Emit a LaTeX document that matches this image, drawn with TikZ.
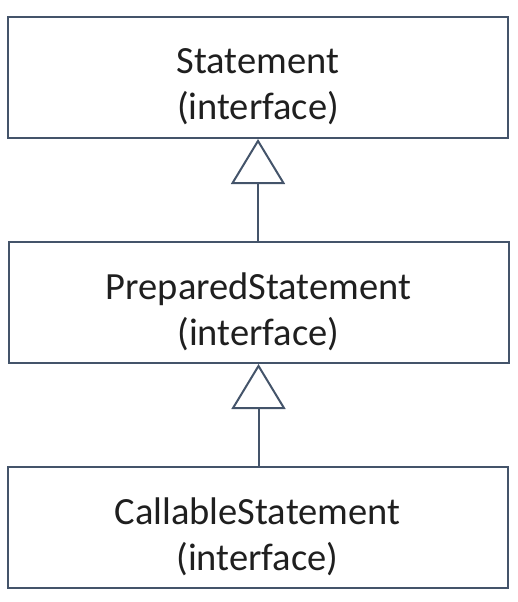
\documentclass[tikz,border=0pt]{standalone}
\usepackage{fontspec}
\setmainfont{Carlito}
\usetikzlibrary{arrows.meta}
\definecolor{linecol}{HTML}{44546A}
\begin{document}
\begin{tikzpicture}[x=1pt,y=-1pt,
  classbox/.style={draw=linecol, line width=2pt, minimum width=500pt, minimum height=121pt,
    inner sep=0pt},
  boxtext/.style={align=center, font=\fontsize{38.5}{46}\selectfont, text=black!88, yshift=-9pt},
  inherit/.style={draw=linecol, line width=2pt,
    -{Triangle[open, length=45pt, width=54pt, fill=white]}}]
\useasboundingbox (0,0) rectangle (517,602);
\node[classbox, label={[boxtext]center:Statement\\(interface)}] (stmt) at (258,77.5) {};
\node[classbox, label={[boxtext]center:PreparedStatement\\(interface)}] (prep) at (258.5,302.5) {};
\node[classbox, label={[boxtext]center:CallableStatement\\(interface)}] (call) at (257.5,527.5) {};
\draw[inherit] (prep.north -| stmt.south) -- (stmt.south);
\draw[inherit] (call.north -| prep.south) -- (prep.south);
\end{tikzpicture}
\end{document}
